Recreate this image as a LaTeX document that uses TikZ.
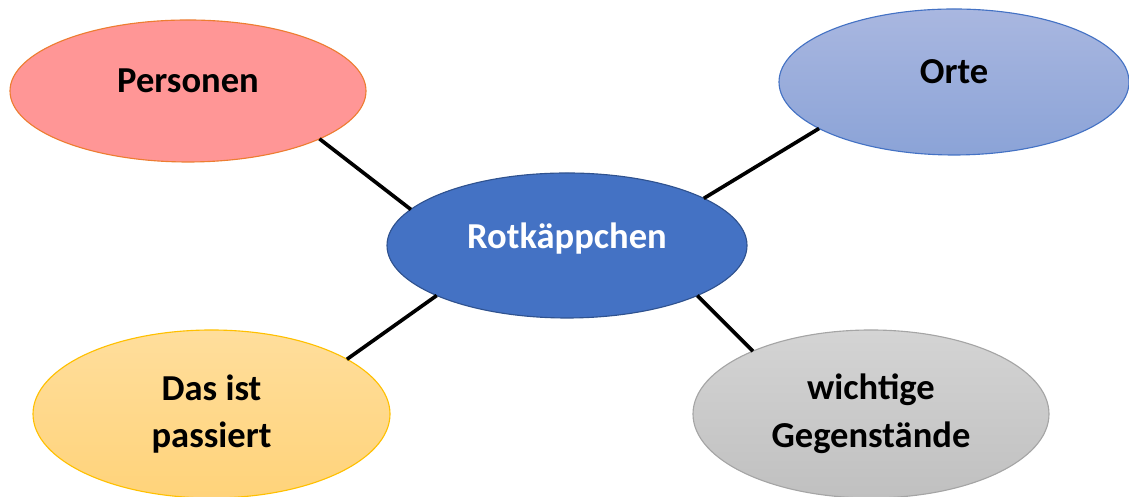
\documentclass[tikz,border=0pt]{standalone}
\usepackage{fontspec}
\setmainfont{Carlito}
\usetikzlibrary{shapes.geometric}
\definecolor{persfill}{HTML}{FF9696}
\definecolor{persline}{HTML}{ED7D31}
\definecolor{ortetop}{HTML}{A9B7E0}
\definecolor{ortebot}{HTML}{8BA3D7}
\definecolor{orteline}{HTML}{4472C4}
\definecolor{rotfill}{HTML}{4472C4}
\definecolor{rotline}{HTML}{2F528F}
\definecolor{dastop}{HTML}{FFDE9C}
\definecolor{dasbot}{HTML}{FFD37A}
\definecolor{dasline}{HTML}{FFC000}
\definecolor{gegtop}{HTML}{D4D4D4}
\definecolor{gegbot}{HTML}{C0C0C0}
\definecolor{gegline}{HTML}{A5A5A5}
\begin{document}
\begin{tikzpicture}
  \tikzstyle{every node}=[ellipse,draw,line width=0.8pt,inner sep=0pt,outer sep=0pt,font=\fontsize{26}{34}\selectfont\bfseries]
  \tikzstyle{raised}=[text height=20pt,text depth=18pt]
  \tikzstyle{spoke}=[line width=2.6pt]
  \useasboundingbox (0,0) rectangle (28.225,12.425);
  \node [raised,draw=persline,fill=persfill,minimum width=8.9cm,minimum height=3.55cm] (pers) at (4.7,10.15) {Personen};
  \node [raised,draw=orteline,top color=ortetop,bottom color=ortebot,minimum width=8.75cm,minimum height=3.65cm] (orte) at (23.85,10.375) {Orte};
  \node [text height=20pt,text depth=16pt,draw=rotline,fill=rotfill,text=white,minimum width=9cm,minimum height=3.625cm] (rot) at (14.175,6.2875) {Rotkäppchen};
  \node [align=center,draw=dasline,top color=dastop,bottom color=dasbot,minimum width=8.925cm,minimum height=4.2cm] (das) at (5.2875,2.075) {Das ist\\passiert};
  \node [align=center,draw=gegline,top color=gegtop,bottom color=gegbot,minimum width=8.9cm,minimum height=4.2cm] (geg) at (21.775,2.075) {wichtige\\Gegenstände};
  \draw [spoke] (pers.-20) -- (rot.167);
  \draw [spoke] (orte.199) -- (rot.19);
  \draw [spoke] (das.22) -- (rot.201);
  \draw [spoke] (geg.152) -- (rot.-21);
\end{tikzpicture}
\end{document}
